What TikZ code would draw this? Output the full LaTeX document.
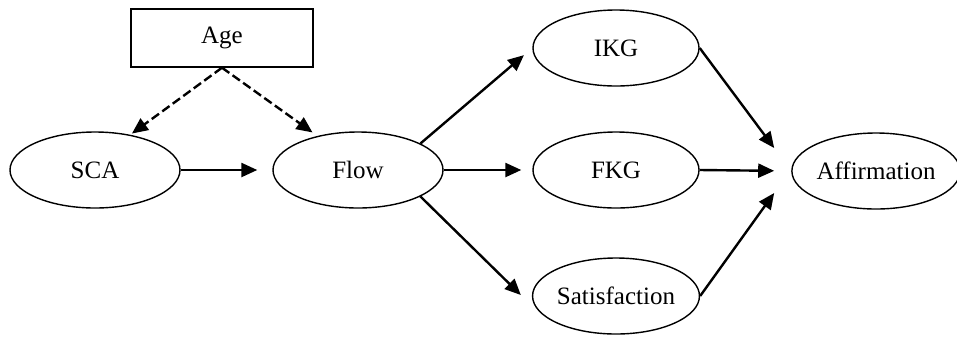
\documentclass[tikz,border=0pt]{standalone}
\usepackage{fontspec}
\setmainfont{Liberation Serif}
\usetikzlibrary{positioning}
\usetikzlibrary{shapes,arrows.meta}
\tikzset{
    latentVar/.style={draw, ellipse, line width=0.7pt, inner sep=0pt,
		minimum width=83pt, minimum height=38pt, font=\fontsize{12.5}{14}\selectfont}
}
\tikzset{
    covBox/.style={draw, rectangle, line width=0.7pt, inner sep=0pt,
		minimum width=91pt, minimum height=29pt, font=\fontsize{12.5}{14}\selectfont}
}
\tikzset{
    pathArrow/.style={line width=1.2pt, -{Triangle[length=8pt,width=7pt]}},
    modArrow/.style={pathArrow, dash pattern=on 4.5pt off 2pt}
}
\begin{document}
\begin{tikzpicture}[x=0.5pt,y=-0.5pt]
        \useasboundingbox (0,0) rectangle (957,339);
        % moderator and predictors
        \node[covBox] (age) at (222,38) {Age};
        \node[latentVar, minimum width=85pt] (sca) at (95,170) {SCA};
        \node[latentVar, minimum width=85pt] (flow) at (358,170) {Flow};
        % outcomes
        \node[latentVar] (ikg) at (616,48) {IKG};
        \node[latentVar] (fkg) at (616,170) {FKG};
        \node[latentVar] (sat) at (616,296) {Satisfaction};
        \node[latentVar, minimum width=80pt] (aff) at (876,171) {Affirmation};
        \draw[modArrow, shorten >=1pt] (age.south) -- (sca.45);
        \draw[modArrow, shorten >=3pt] (age.south) -- (flow.140);
        \draw[pathArrow, shorten >=7.5pt] (sca.east) -- (flow.west);
        \draw[pathArrow, shorten >=5.5pt] (flow.23) -- (ikg.west);
        \draw[pathArrow, shorten >=5.5pt] (flow.east) -- (fkg.west);
        \draw[pathArrow] (flow.-23) -- ([shift={(-5.5pt,0.5pt)}]sat.west);
        \draw[pathArrow] (ikg.east) -- ([shift={(-8.5pt,11.5pt)}]aff.west);
        \draw[pathArrow, shorten >=8.5pt] (fkg.east) -- (aff.west);
        \draw[pathArrow] (sat.east) -- ([shift={(-8.5pt,-11pt)}]aff.west);
      \end{tikzpicture}
\end{document}
